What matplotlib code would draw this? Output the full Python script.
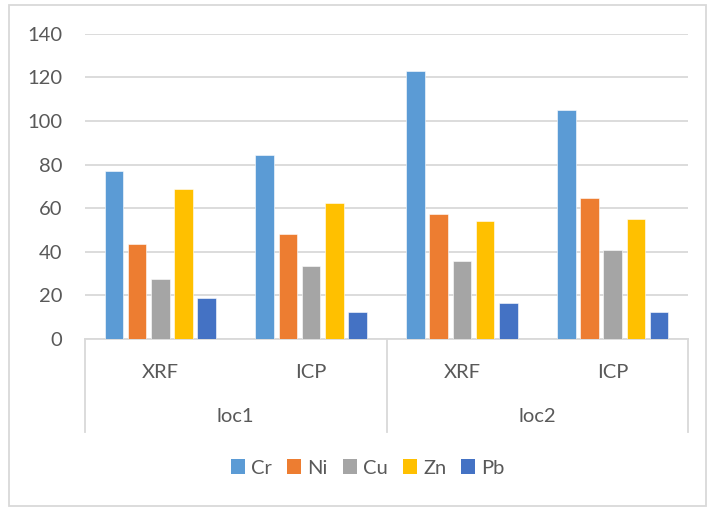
import matplotlib
matplotlib.use("Agg")
import matplotlib.pyplot as plt
import numpy as np
from matplotlib.patches import Patch, Rectangle
from matplotlib.transforms import blended_transform_factory

# Data
locations = ["loc1", "loc2"]
methods = ["XRF", "ICP"]
elements = ["Cr", "Ni", "Cu", "Zn", "Pb"]
cr = [77, 84.5, 123, 105]
ni = [43.7, 48, 57.2, 64.8]
cu = [27.4, 33.4, 35.7, 40.9]
zn = [68.9, 62.2, 54, 55]
pb = [18.7, 12.4, 16.3, 12.4]
y_ticks = [0, 20, 40, 60, 80, 100, 120, 140]

series = [cr, ni, cu, zn, pb]
colors = ["#5B9BD5", "#ED7D31", "#A5A5A5", "#FFC000", "#4472C4"]

plt.rcParams["font.family"] = ["Lato", "DejaVu Sans"]
FS = 14.5
TXT = "#595959"
W, H = 707, 509
fig = plt.figure(figsize=(W / 100, H / 100), dpi=100)

# outer chart border
fig.patches.append(Rectangle((9 / W, 1 - 506 / H), (706 - 9) / W, (506 - 5) / H,
                             transform=fig.transFigure, fill=False,
                             edgecolor="#D9D9D9", linewidth=1.3))

x0, x1 = 85, 688
y_top, y_bot = 33.7, 339
ax = fig.add_axes([x0 / W, 1 - y_bot / H, (x1 - x0) / W, (y_bot - y_top) / H])

n_cat = len(locations) * len(methods)
x = np.arange(n_cat)
pitch = 23.2 / ((x1 - x0) / n_cat)
bw = 18.6 / ((x1 - x0) / n_cat)
for i, (vals, c, name) in enumerate(zip(series, colors, elements)):
    offs = (i - 2) * pitch
    ax.bar(x + offs, vals, width=bw, color=c, label=name, zorder=3,
           edgecolor="white", linewidth=0.4)

ax.set_xlim(-0.5, n_cat - 0.5)
ax.set_ylim(0, 140)
ax.set_yticks(y_ticks)
ax.tick_params(axis="y", length=0, pad=16.5, labelsize=FS, labelcolor=TXT)
ax.set_xticks([])
ax.grid(axis="y", color="#D9D9D9", linewidth=1.3, zorder=0)
for s in ["top", "right", "left"]:
    ax.spines[s].set_visible(False)
ax.spines["bottom"].set_color("#D9D9D9")
ax.spines["bottom"].set_linewidth(1.3)

# multi-level category axis
h_ax = y_bot - y_top
tr = blended_transform_factory(ax.transData, ax.transAxes)
frame_bottom = -(432 - y_bot) / h_ax
for xv in [-0.5, 1.5, 3.5]:
    ax.plot([xv, xv], [0, frame_bottom], color="#D9D9D9", linewidth=1.3,
            transform=tr, clip_on=False)
k = 0
for li, loc in enumerate(locations):
    for m in methods:
        ax.text(k, -(372 - y_bot) / h_ax, m, transform=tr, ha="center",
                va="center", fontsize=FS, color=TXT)
        k += 1
    ax.text(li * 2 + 0.5, -(417 - y_bot) / h_ax, loc, transform=tr,
            ha="center", va="center", fontsize=FS, color=TXT)

handles = [Patch(facecolor=c, edgecolor="none", label=n) for c, n in zip(colors, elements)]
leg = fig.legend(handles=handles, loc="center", bbox_to_anchor=(368 / W, 1 - 468 / H),
                 ncol=5, frameon=False, fontsize=FS, handlelength=0.7,
                 handleheight=0.7, handletextpad=0.3, columnspacing=0.75)
for t in leg.get_texts():
    t.set_color(TXT)

fig.savefig("out.png", dpi=100)
